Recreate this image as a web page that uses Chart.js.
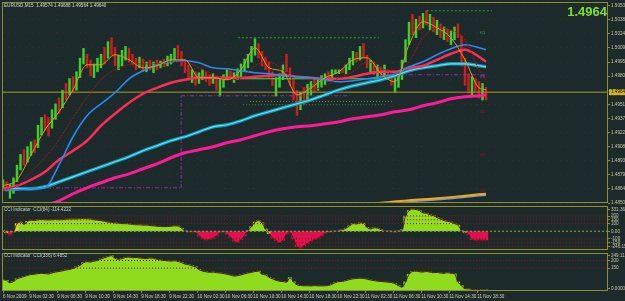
<!DOCTYPE html>
<html><head><meta charset="utf-8">
<script src="https://cdn.jsdelivr.net/npm/chart.js@4.4.1/dist/chart.umd.min.js"></script>
<style>
html,body{margin:0;padding:0;background:#1c2a2b;width:625px;height:301px;overflow:hidden;position:relative;}
canvas{position:absolute;left:0;}
</style></head><body>
<canvas id="c1" width="625" height="212" style="top:0px"></canvas>
<canvas id="c2" width="625" height="50" style="top:204px"></canvas>
<canvas id="c3" width="625" height="50" style="top:251px"></canvas>
<script>
// ================= DATA =================
const symbolTitle = 'EURUSD,M15  1.49574 1.49688 1.49564 1.49640';
const currentPrice = 1.4964;
const timeLabels = ['6 Nov 2009','9 Nov 02:30','9 Nov 06:30','9 Nov 10:30','9 Nov 14:30','9 Nov 18:30','9 Nov 22:30',
  '10 Nov 02:30','10 Nov 06:30','10 Nov 10:30','10 Nov 14:30','10 Nov 18:30','10 Nov 22:30',
  '11 Nov 02:30','11 Nov 06:30','11 Nov 10:30','11 Nov 14:30','11 Nov 18:30'];
const timeLabelBars = [0,7.5,15.5,23.5,31.5,39.5,47.5,55.5,63.5,71.5,79.5,87.5,95.5,103.5,111.5,119.5,127.5,135.5];
const priceTicks = [1.50530,1.50385,1.50240,1.50095,1.49950,1.49805,1.49515,1.49370,1.49225,1.49080,1.48935,1.48790,1.48645,1.48500];

const highs = [1.4874,1.4872,1.4869,1.4876,1.4889,1.4900,1.4905,1.4908,1.4913,1.4915,
1.4930,1.4938,1.4941,1.4938,1.4946,1.4952,1.4958,1.4966,1.4973,1.4978,
1.4980,1.4985,1.4999,1.5009,1.5003,1.4997,1.4993,1.4999,1.5003,1.5010,
1.5016,1.5020,1.5010,1.5002,1.5007,1.5011,1.5009,1.5003,1.4999,1.5000,
1.4998,1.4995,1.4997,1.4995,1.4997,1.4996,1.4998,1.5001,1.5003,1.5009,
1.5012,1.5006,1.4997,1.4992,1.4987,1.4985,1.4984,1.4987,1.4985,1.4982,
1.4983,1.4980,1.4977,1.4982,1.4987,1.4986,1.4984,1.4988,1.4993,1.4998,
1.5003,1.5011,1.5019,1.5014,1.5006,1.5000,1.4995,1.4985,1.4979,1.4983,
1.4992,1.5003,1.4989,1.4977,1.4966,1.4964,1.4969,1.4972,1.4975,1.4979,
1.4977,1.4981,1.4983,1.4985,1.4987,1.4987,1.4987,1.4988,1.4992,1.4999,
1.5006,1.5005,1.5011,1.5014,1.5002,1.4997,1.4995,1.4992,1.4990,1.4992,
1.4987,1.4982,1.4979,1.4983,1.4997,1.5018,1.5036,1.5044,1.5039,1.5042,
1.5045,1.5048,1.5044,1.5041,1.5038,1.5034,1.5031,1.5029,1.5027,1.5031,
1.5034,1.5022,1.4999,1.4983,1.4980,1.4978,1.4975,1.4973,1.4969];
const lows = [1.4864,1.4862,1.4855,1.4860,1.4872,1.4884,1.4889,1.4892,1.4899,1.4902,
1.4907,1.4920,1.4925,1.4919,1.4927,1.4936,1.4942,1.4948,1.4956,1.4961,
1.4964,1.4966,1.4979,1.4993,1.4989,1.4981,1.4979,1.4985,1.4989,1.4993,
1.4999,1.5002,1.4991,1.4987,1.4991,1.4997,1.4995,1.4992,1.4987,1.4989,
1.4985,1.4985,1.4987,1.4984,1.4987,1.4989,1.4990,1.4991,1.4993,1.4997,
1.4999,1.4991,1.4984,1.4978,1.4974,1.4971,1.4973,1.4977,1.4975,1.4971,
1.4973,1.4966,1.4960,1.4969,1.4977,1.4977,1.4974,1.4977,1.4979,1.4985,
1.4989,1.4995,1.5002,1.4999,1.4991,1.4987,1.4978,1.4971,1.4960,1.4969,
1.4977,1.4985,1.4971,1.4956,1.4940,1.4946,1.4951,1.4956,1.4961,1.4964,
1.4966,1.4969,1.4972,1.4975,1.4979,1.4983,1.4983,1.4984,1.4983,1.4987,
1.4992,1.4995,1.4997,1.4999,1.4989,1.4985,1.4982,1.4979,1.4977,1.4981,
1.4977,1.4971,1.4964,1.4969,1.4977,1.4995,1.5013,1.5023,1.5020,1.5028,
1.5030,1.5033,1.5028,1.5026,1.5023,1.5020,1.5018,1.5016,1.5013,1.5018,
1.5020,1.4991,1.4971,1.4963,1.4960,1.4964,1.4958,1.4956,1.4956];
const closes = [1.4868,1.4865,1.4866,1.4874,1.4886,1.4895,1.4892,1.4905,1.4910,1.4905,
1.4927,1.4934,1.4928,1.4923,1.4943,1.4949,1.4944,1.4963,1.4960,1.4975,
1.4969,1.4982,1.4997,1.5002,1.4993,1.4985,1.4991,1.4995,1.5001,1.4997,
1.5014,1.5006,1.4995,1.5000,1.5005,1.5008,1.4999,1.4995,1.4991,1.4998,
1.4989,1.4993,1.4990,1.4993,1.4991,1.4995,1.4993,1.4999,1.5001,1.5007,
1.5003,1.4994,1.4987,1.4981,1.4985,1.4973,1.4981,1.4985,1.4977,1.4975,
1.4981,1.4969,1.4973,1.4980,1.4985,1.4979,1.4982,1.4986,1.4991,1.4996,
1.5001,1.5008,1.5016,1.5002,1.4994,1.4989,1.4982,1.4973,1.4977,1.4981,
1.4990,1.4987,1.4973,1.4960,1.4956,1.4961,1.4958,1.4969,1.4972,1.4966,
1.4975,1.4978,1.4981,1.4977,1.4985,1.4985,1.4986,1.4985,1.4990,1.4997,
1.5004,1.4999,1.5009,1.5001,1.4993,1.4995,1.4985,1.4990,1.4981,1.4989,
1.4979,1.4973,1.4975,1.4981,1.4995,1.5016,1.5034,1.5028,1.5037,1.5032,
1.5043,1.5036,1.5041,1.5029,1.5035,1.5023,1.5028,1.5018,1.5024,1.5028,
1.5022,1.4995,1.4975,1.4966,1.4977,1.4969,1.4962,1.4966,1.4964];

const maBars = [0,4,8,12,16,20,24,28,32,36,40,44,48,52,56,60,64,68,72,76,80,84,88,92,96,100,104,108,112,116,120,124,128,132,136,138];
const maFast = [1.48678,1.4874,1.48997,1.49254,1.49439,1.49665,1.49922,1.49922,1.50025,1.49973,1.49891,1.49912,1.49973,1.49973,1.49788,1.49788,1.49768,1.4987,
1.50097,1.49891,1.4985,1.49613,1.49685,1.49788,1.4985,1.49973,1.49994,1.49829,1.49747,1.50127,1.50364,1.50302,1.50199,1.49973,1.49685,1.49665];
const maDotted = [1.48637,1.48678,1.48822,1.48966,1.49151,1.49377,1.49583,1.49768,1.4987,1.49922,1.49932,1.49932,1.49953,1.49953,1.49891,1.49829,1.49768,1.49788,
1.49912,1.49953,1.4987,1.49726,1.49665,1.49706,1.49788,1.4985,1.49953,1.49891,1.49829,1.49953,1.50199,1.50302,1.50282,1.50179,1.4987,1.49768];
const maBlue = [1.48637,1.48637,1.48647,1.48657,1.48894,1.49182,1.49398,1.49521,1.49634,1.49778,1.4986,1.49922,1.49953,1.49963,1.49942,1.49891,1.49881,1.4986,
1.4984,1.49829,1.49809,1.49798,1.49788,1.49768,1.49747,1.49757,1.49778,1.49798,1.49829,1.49901,1.49953,1.50025,1.50086,1.50127,1.50097,1.50076];
const maRed = [1.48647,1.48678,1.4874,1.48822,1.48945,1.49038,1.49141,1.49295,1.49418,1.49531,1.49624,1.49685,1.49737,1.49768,1.49788,1.49788,1.49788,1.49788,
1.49798,1.49809,1.49819,1.49798,1.49788,1.49778,1.49778,1.49798,1.49829,1.4985,1.4985,1.49891,1.49912,1.49973,1.50035,1.50076,1.50004,1.49953];
const maCyan = [1.48647,1.48647,1.48647,1.48668,1.48719,1.4877,1.48822,1.48873,1.48925,1.48976,1.49038,1.49089,1.49141,1.49182,1.49233,1.49284,1.49305,1.49346,
1.49398,1.49439,1.4948,1.49521,1.49562,1.49613,1.49665,1.49706,1.49737,1.49768,1.49809,1.4986,1.49891,1.49912,1.49932,1.49932,1.49912,1.49901];
const maPink = [1.48277,1.48349,1.48411,1.48472,1.48524,1.48596,1.48657,1.48709,1.4876,1.48801,1.48853,1.48904,1.48966,1.49017,1.49048,1.49079,1.4912,1.49151,
1.49192,1.49233,1.49264,1.49284,1.49295,1.49315,1.49336,1.49367,1.49387,1.49408,1.49439,1.49459,1.495,1.49531,1.49572,1.49593,1.49603,1.49613];
const slowBars = [101,108,116,124,132,138];
const maSlowA = [1.48493,1.48503,1.48529,1.48549,1.48575,1.48596];
const maSlowB = [1.48478,1.48488,1.48514,1.48534,1.48560,1.48581];

// horizontal / drawn levels (price, bar span)
const greenDotLevel = 1.50199, greenDotSpan = [67.1, 107.4];
const greenTopLevel = 1.50477, greenTopSpan = [121.1, 139.7];
const oliveDotLevel = 1.49545, oliveDotSpan = [70.6, 111.1];
const greenLowLevel = 1.49511, greenLowSpan = [68.6, 109.1];
const limeLevel = 1.49778, limeSpan = [67.7, 108.3];
const boxLow = 1.48657, boxHigh = 1.49603, boxBar = 50.9, boxStart = -0.3, boxEnd = 99.1;
const purpleLevel = 1.49819, purpleSpan = [113.4, 138.3];
const pivotNames = ['R1','PP','S1','S2','S3'];
const pivotPrices = [1.50251, 1.49793, 1.49439, 1.48997, 1.48627];
const pivotBar = 136.3;

const cci84 = [10,-20,-50,-10,100,120,90,130,145,140,
150,155,150,148,150,155,150,152,158,160,
162,160,165,168,165,160,150,145,140,130,
120,115,110,105,100,100,95,90,85,85,
80,80,75,70,65,62,60,62,65,70,
68,40,5,-10,-20,-15,-60,-100,-115,-110,
-90,-60,-20,-10,-40,-80,-130,-150,-110,-60,
10,60,120,140,110,30,-30,-90,-120,-150,
-120,-40,-20,-100,-200,-220,-190,-160,-130,-110,
-90,-60,-30,-15,-8,5,15,20,40,70,
100,95,110,105,50,30,45,40,20,10,
5,-5,-10,5,20,200,270,290,285,270,
240,235,215,205,180,160,140,130,120,100,
80,10,-20,-40,-110,-120,-115,-120,-114.4222];
const cci336 = [74,70,54,62,80,87,95,102,108,110,
114,116,114,112,118,124,128,132,138,141,
148,158,168,185,192,190,196,200,210,218,
226,232,214,208,212,220,222,218,220,216,
214,212,216,214,208,204,200,198,196,198,
194,186,176,172,165,158,140,130,126,122,
124,120,118,114,110,104,98,100,106,112,
118,122,128,130,110,106,90,80,70,64,
62,58,87,60,40,36,34,34,33,35,
34,33,34,36,45,55,62,63,68,75,
80,82,84,82,78,72,68,64,63,60,
58,55,48,35,25,60,110,128,130,126,
124,128,124,120,122,118,116,120,116,112,
60,35,15,14,10,8,10,7,6.4852];
const cci84Range = [-246.158, 331.3661];
const cci84Ticks = [331.3661,200,150,100,0,-100,-150,-246.158];
const cci84Levels = [200,150,100,-100,-150,-200];
const cci336Range = [0, 249.1193];
const cci336Ticks = [249.1193,200,150,0];
const cci336Levels = [200,150];

// ================= STYLE / BUILD =================
const FONT = '"Liberation Sans", Arial, sans-serif';
const FRAME = '#8e8e2c';
const GRID = '#3a2a34';
const TXT = '#c9c9a8';
const xMin = -1/3.5, xMax = xMin + 606/3.5;

function xScale(showLabels){
  return {
    type:'linear', min:xMin, max:xMax, offset:false, display:true,
    afterBuildTicks: s => { s.ticks = timeLabelBars.map(v => ({value:v})); },
    afterFit: s => { s.height = showLabels ? 10 : 0; s.paddingLeft = 0; s.paddingRight = 0; },
    grid:{ display:true, offset:false, drawOnChartArea:true, color:GRID, drawTicks:showLabels, tickLength:2, tickColor:FRAME },
    border:{ display:false, dash:[1,5] },
    ticks:{ display:showLabels, autoSkip:false, maxRotation:0, minRotation:0, align:'start', padding:1, color:'#d2d2b4',
      font:{size:4.6, family:FONT}, callback:(v,i) => timeLabels[i] }
  };
}
function yScale(min, max, tickVals, fmt, grid, nudgePx, areaH){
  return {
    type:'linear', position:'right', min, max,
    afterBuildTicks: s => {
      const u = (max - min) / areaH * nudgePx;
      s.ticks = tickVals.map((v,i) => {
        let val = v;
        if (nudgePx && v === max) val = v - u;
        if (nudgePx && v === min) val = v + u;
        return {value: val};
      });
    },
    afterFit: s => { s.width = 17; s.paddingTop = 0; s.paddingBottom = 0; },
    grid:{ display:true, drawOnChartArea:grid, color:GRID, drawTicks:true, tickLength:2, tickColor:FRAME },
    border:{ display:false, dash:[1,5] },
    ticks:{ autoSkip:false, padding:1, color:TXT, font:{size:4.6, family:FONT}, callback:(v,i) => fmt(i) }
  };
}
function line(xs, ys, color, width, order, dash){
  return {type:'line', data: xs.map((x,k) => ({x, y:ys[k]})), borderColor:color, borderWidth:width,
    borderDash:dash||[], pointRadius:0, cubicInterpolationMode:'monotone', order};
}
function seg(x1, y1, x2, y2, color, width, order, dash){
  return {type:'line', data:[{x:x1,y:y1},{x:x2,y:y2}], borderColor:color, borderWidth:width,
    borderDash:dash||[], pointRadius:0, tension:0, order};
}
const framePlugin = {
  id:'frame',
  afterDraw(chart){
    const {ctx, chartArea:a} = chart;
    ctx.save(); ctx.strokeStyle = FRAME; ctx.lineWidth = 1;
    ctx.strokeRect(a.left + 0.5, a.top + 0.5, a.right - a.left - 1, a.bottom - a.top - 1);
    ctx.restore();
  }
};
function textPlugin(draw){ return { id:'txt', afterDraw(chart){ const ctx = chart.ctx; ctx.save(); draw(chart, ctx); ctx.restore(); } }; }
function baseOpts(scales, padding){
  return { responsive:false, animation:false, devicePixelRatio:1, events:[],
    layout:{ padding, autoPadding:false },
    plugins:{ legend:{display:false}, tooltip:{enabled:false} }, scales };
}

// ---------- main price chart ----------
const UP = '#3ccf28', DOWN = '#d01c1c';
const candleColors = closes.map((c,i) => c >= (i ? closes[i-1] : lows[0]) ? UP : DOWN);
const xEnd = xMax;
new Chart(document.getElementById('c1'), {
  type:'bar',
  data:{ datasets:[
    line(maBars, maFast, '#d99a22', 1, 3),
    line(maBars, maDotted, '#a01818', 1, 4, [2,1]),
    line(maBars, maBlue, '#2a8cf0', 1.6, 5),
    line(maBars, maRed, '#ff2d55', 2.5, 6),
    line(maBars, maCyan, '#5fe6ee', 1.2, 7),
    line(maBars, maCyan, '#1496b8', 3.4, 8),
    line(maBars, maPink, '#ff1a96', 3, 9),
    line(slowBars, maSlowA, '#e8a820', 2.2, 10),
    line(slowBars, maSlowB, '#7a98d8', 1.4, 11),
    seg(xMin, currentPrice, xEnd, currentPrice, '#a89a2a', 1, 20),
    seg(greenDotSpan[0], greenDotLevel, greenDotSpan[1], greenDotLevel, '#2e9e2e', 1, 21, [2,2]),
    seg(greenTopSpan[0], greenTopLevel, greenTopSpan[1], greenTopLevel, '#2e9e2e', 1, 21, [2,2]),
    seg(oliveDotSpan[0], oliveDotLevel, oliveDotSpan[1], oliveDotLevel, '#8a8a3a', 1, 21, [1,2]),
    seg(greenLowSpan[0], greenLowLevel, greenLowSpan[1], greenLowLevel, '#2a8a2a', 1, 21, [1,2]),
    seg(limeSpan[0], limeLevel, limeSpan[1], limeLevel, '#34e834', 1, 12),
    seg(boxStart, boxLow, boxBar, boxLow, '#9a2aa8', 1, 21, [4,2,1,2]),
    seg(boxBar, boxLow, boxBar, boxHigh, '#9a2aa8', 1, 21, [4,2,1,2]),
    seg(boxBar, boxHigh, boxEnd, boxHigh, '#9a2aa8', 1, 21, [4,2,1,2]),
    seg(purpleSpan[0], purpleLevel, purpleSpan[1], purpleLevel, '#9a2aa8', 1, 21, [4,2,1,2]),
    {type:'bar', data: highs.map((h,i) => ({x:i, y:[lows[i], h]})), backgroundColor:candleColors,
      barThickness:1.8, borderWidth:0, grouped:false, order:50}
  ]},
  options: baseOpts({
    x: xScale(false),
    y: yScale(1.48501, 1.50567, priceTicks, i => priceTicks[i].toFixed(5), true, 0, 201)
  }, {top:2, left:2, right:0, bottom:9}),
  plugins:[framePlugin, textPlugin((chart, ctx) => {
    const y = chart.scales.y, x = chart.scales.x;
    ctx.font = '4.6px ' + FONT; ctx.fillStyle = '#d8d8d8'; ctx.textBaseline = 'middle'; ctx.textAlign = 'left';
    ctx.fillText(symbolTitle, 4, 5.5);
    ctx.font = 'bold 13px ' + FONT; ctx.fillStyle = '#80e020'; ctx.textAlign = 'right'; ctx.textBaseline = 'alphabetic';
    ctx.fillText(currentPrice.toFixed(4), 607, 16);
    const py = y.getPixelForValue(currentPrice);
    ctx.fillStyle = '#d6b418'; ctx.fillRect(609, py - 3, 16, 6);
    ctx.font = '4.6px ' + FONT; ctx.fillStyle = '#111'; ctx.textAlign = 'left'; ctx.textBaseline = 'middle';
    ctx.fillText(currentPrice.toFixed(5), 611, py);
    const pcol = ['#3aa83a','#a040b0','#a01818','#a01818','#a01818'];
    ctx.font = '4px ' + FONT;
    pivotNames.forEach((n,k) => { ctx.fillStyle = pcol[k]; ctx.fillText(n, x.getPixelForValue(pivotBar), y.getPixelForValue(pivotPrices[k])); });
  })]
});

// ---------- CCI panels ----------
function cciColors(vals){
  return vals.map((v,i) => {
    const p = i ? vals[i-1] : v;
    if (Math.abs(v) < 18) return '#808884';
    if ((v >= 0) !== (p >= 0)) return '#e6d21e';
    return v >= 0 ? '#8fdc1e' : '#e0104e';
  });
}
new Chart(document.getElementById('c2'), {
  type:'bar',
  data:{ datasets:[
    ...cci84Levels.map(l => seg(xMin, l, xMax, l, '#8a1414', 1, 1, [1,2])),
    seg(xMin, 0, xMax, 0, '#a0a040', 1, 1, [2,2]),
    line(cci84.map((v,i)=>i), cci84, '#5a1a12', 1, 5),
    {type:'bar', data: cci84.map((v,i) => ({x:i, y:v})), backgroundColor:cciColors(cci84),
      barThickness:3.6, borderWidth:0, grouped:false, order:10}
  ]},
  options: baseOpts({
    x: xScale(false),
    y: yScale(cci84Range[0], cci84Range[1], cci84Ticks, i => ['331.3661','200','150','100','0.00','-100','-150','-246.158'][i], false, 3.5, 44)
  }, {top:2, left:2, right:0, bottom:4}),
  plugins:[framePlugin, textPlugin((chart, ctx) => {
    ctx.font = '4.6px ' + FONT; ctx.fillStyle = '#cfcfcf'; ctx.textBaseline = 'middle'; ctx.textAlign = 'left';
    ctx.fillText('CCI Indicator  CCI(84) ' + cci84[cci84.length-1].toFixed(4), 4, 6);
  })]
});
new Chart(document.getElementById('c3'), {
  type:'bar',
  data:{ datasets:[
    ...cci336Levels.map(l => seg(xMin, l, xMax, l, '#8a1414', 1, 1, [1,2])),
    line(cci336.map((v,i)=>i), cci336, '#4a1a12', 1, 5),
    {type:'bar', data: cci336.map((v,i) => ({x:i, y:v})), backgroundColor:'#8fdc1e',
      barThickness:3.6, borderWidth:0, grouped:false, order:10}
  ]},
  options: baseOpts({
    x: xScale(true),
    y: yScale(cci336Range[0], cci336Range[1], cci336Ticks, i => ['249.1193','200','150','0.0000'][i], false, 2.5, 38)
  }, {top:2, left:2, right:0, bottom:0}),
  plugins:[framePlugin, textPlugin((chart, ctx) => {
    ctx.font = '4.6px ' + FONT; ctx.fillStyle = '#cfcfcf'; ctx.textBaseline = 'middle'; ctx.textAlign = 'left';
    ctx.fillText('CCI Indicator  CCI(336) ' + cci336[cci336.length-1].toFixed(4), 4, 5);
  })]
});
</script>
</body></html>
